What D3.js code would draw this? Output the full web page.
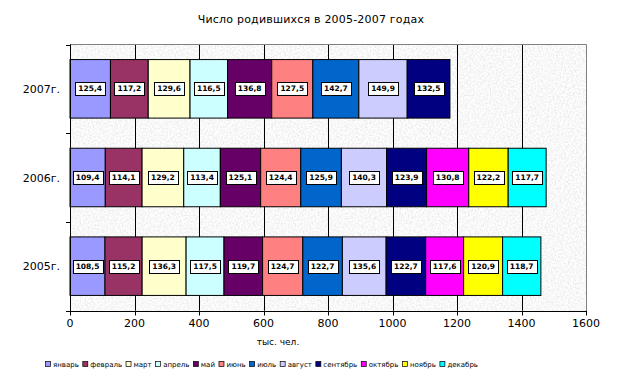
<!DOCTYPE html>
<html>
<head>
<meta charset="utf-8">
<script src="https://cdn.jsdelivr.net/npm/d3@7"></script>
<style>
  body{margin:0;background:#fff;}
  text{font-family:"DejaVu Sans",Verdana,sans-serif;}
</style>
</head>
<body>
<div class="chart"></div>
<script>
/*data*/
var years=["2007г.","2006г.","2005г."];
var months=["январь","февраль","март","апрель","май","июнь","июль","август","сентябрь","октябрь","ноябрь","декабрь"];
var colors=["#9999FF","#993366","#FFFFCC","#CCFFFF","#660066","#FF8080","#0066CC","#CCCCFF","#000080","#FF00FF","#FFFF00","#00FFFF"];
var v2007=[125.4,117.2,129.6,116.5,136.8,127.5,142.7,149.9,132.5];
var v2006=[109.4,114.1,129.2,113.4,125.1,124.4,125.9,140.3,123.9,130.8,122.2,117.7];
var v2005=[108.5,115.2,136.3,117.5,119.7,124.7,122.7,135.6,122.7,117.6,120.9,118.7];
var xTicks=[0,200,400,600,800,1000,1200,1400,1600];

var values={"2007г.":v2007,"2006г.":v2006,"2005г.":v2005};

/*dimensions*/
var W=622, H=377;
var plot={left:70, right:586, top:44.5, bottom:310.5};

var svg=d3.select(".chart").append("svg")
  .attr("width",W).attr("height",H);

/*texture for plot background*/
var defs=svg.append("defs");
var f=defs.append("filter").attr("id","granite")
  .attr("x",0).attr("y",0).attr("width",1).attr("height",1);
f.append("feTurbulence").attr("type","fractalNoise")
  .attr("baseFrequency",0.6).attr("numOctaves",2).attr("seed",3);
f.append("feColorMatrix").attr("type","matrix")
  .attr("values","0.4 0 0 0 0.74  0.4 0 0 0 0.74  0.4 0 0 0 0.74  0 0 0 0 1");

/*scales*/
var x=d3.scaleLinear().domain([0,1600]).range([plot.left,plot.right]);
var y=d3.scaleBand().domain(years).range([plot.top,plot.bottom])
  .paddingInner(0.34).paddingOuter(0.17);

svg.append("rect")
  .attr("x",plot.left).attr("y",plot.top)
  .attr("width",plot.right-plot.left).attr("height",plot.bottom-plot.top)
  .attr("filter","url(#granite)");

// gridlines
svg.append("g").selectAll("line")
  .data(xTicks.filter(function(d){return d>0 && d<1600;}))
  .enter().append("line")
  .attr("x1",function(d){return Math.round(x(d))+0.5;})
  .attr("x2",function(d){return Math.round(x(d))+0.5;})
  .attr("y1",plot.top).attr("y2",plot.bottom)
  .attr("stroke","#000").attr("stroke-width",1);

// border top/right
svg.append("path")
  .attr("d","M"+plot.left+","+plot.top+"H"+(plot.right+0.5)+"V"+plot.bottom)
  .attr("fill","none").attr("stroke","#808080").attr("stroke-width",1);

/*stacked bars*/
years.forEach(function(yr){
  var vals=values[yr];
  var cum=0;
  var g=svg.append("g");
  vals.forEach(function(v,i){
    var x0=x(cum), x1=x(cum+v);
    cum+=v;
    g.append("rect")
      .attr("x",x0).attr("y",y(yr))
      .attr("width",x1-x0).attr("height",y.bandwidth())
      .attr("fill",colors[i])
      .attr("stroke","#000").attr("stroke-width",1);
  });
  cum=0;
  vals.forEach(function(v,i){
    var cx=x(cum+v/2);
    cum+=v;
    var cy=y(yr)+y.bandwidth()/2;
    var lab=g.append("g");
    var box=lab.append("rect").attr("fill","#fff").attr("stroke","#000").attr("stroke-width",1);
    var t=lab.append("text")
      .attr("x",cx).attr("y",cy+2.5)
      .attr("text-anchor","middle")
      .attr("font-size","7.5px").attr("font-weight","bold")
      .attr("fill","#000")
      .text(String(v).replace(".",","));
    var w=t.node().getComputedTextLength()+6;
    box.attr("x",Math.round(cx-w/2)+0.5).attr("y",Math.round(cy-6.5)+0.5)
      .attr("width",Math.round(w)).attr("height",13);
  });
});

/*axes*/
svg.append("line")
  .attr("x1",plot.left+0.5).attr("x2",plot.left+0.5)
  .attr("y1",plot.top).attr("y2",plot.bottom+0.5)
  .attr("stroke","#000");
var catEdges=[plot.top].concat(years.map(function(d){return y(d)+y.bandwidth()+y.step()*0.17;}));
svg.append("g").selectAll("line").data(catEdges).enter().append("line")
  .attr("x1",plot.left-4).attr("x2",plot.left)
  .attr("y1",function(d){return Math.round(d)+0.5;})
  .attr("y2",function(d){return Math.round(d)+0.5;})
  .attr("stroke","#000");

svg.append("line")
  .attr("x1",plot.left).attr("x2",plot.right+0.5)
  .attr("y1",Math.round(plot.bottom)+0.5).attr("y2",Math.round(plot.bottom)+0.5)
  .attr("stroke","#000");
svg.append("g").selectAll("line").data(xTicks).enter().append("line")
  .attr("x1",function(d){return Math.round(x(d))+0.5;})
  .attr("x2",function(d){return Math.round(x(d))+0.5;})
  .attr("y1",plot.bottom).attr("y2",plot.bottom+5)
  .attr("stroke","#000");
svg.append("g").selectAll("text").data(xTicks).enter().append("text")
  .attr("x",function(d){return x(d);})
  .attr("y",327)
  .attr("text-anchor","middle")
  .attr("font-size","11px")
  .text(function(d){return d;});

svg.append("g").selectAll("text").data(years).enter().append("text")
  .attr("x",60).attr("y",function(d){return y(d)+y.bandwidth()/2+4;})
  .attr("text-anchor","end")
  .attr("font-size","11px")
  .text(function(d){return d;});

// title and axis label
svg.append("text").attr("x",311).attr("y",23)
  .attr("text-anchor","middle").attr("font-size","11px")
  .attr("letter-spacing","0.2px")
  .text("Число родившихся в 2005-2007 годах");
svg.append("text").attr("x",278).attr("y",345)
  .attr("text-anchor","middle").attr("font-size","9px")
  .text("тыс. чел.");

/*legend*/
var leg=svg.append("g");
var lx=45;
months.forEach(function(m,i){
  leg.append("rect")
    .attr("x",lx+0.5).attr("y",361.5).attr("width",5).attr("height",5)
    .attr("fill",colors[i]).attr("stroke","#000").attr("stroke-width",0.7);
  var t=leg.append("text").attr("x",lx+8).attr("y",367)
    .attr("font-size","7px").text(m);
  lx+=8+t.node().getComputedTextLength()+3.5;
});
</script>
</body>
</html>
